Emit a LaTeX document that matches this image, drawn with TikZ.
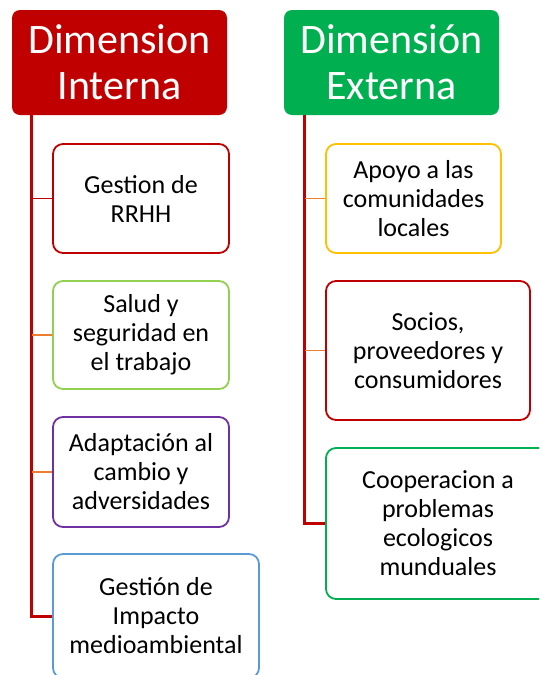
\documentclass[tikz,border=0pt]{standalone}
\usepackage{fontspec}
\setmainfont{Carlito}
\usepackage{tikz}
\usetikzlibrary{positioning}
\definecolor{dimred}{RGB}{192,0,0}
\definecolor{dimgreen}{RGB}{0,176,80}
\definecolor{lightgreen}{RGB}{146,208,80}
\definecolor{dimpurple}{RGB}{112,48,160}
\definecolor{dimblue}{RGB}{91,155,213}
\definecolor{dimyellow}{RGB}{255,192,0}
\definecolor{dimorange}{RGB}{237,125,49}

\begin{document}
\begin{tikzpicture}[
    x=1pt, y=-1pt,
    header/.style={rectangle, rounded corners=8pt, fill=#1, text=white, minimum width=215pt, minimum height=105pt, inner sep=0pt, align=center, font=\fontsize{42}{46}\selectfont},
    item/.style={rectangle, rounded corners=10pt, draw=#1, line width=1.8pt, fill=white, inner sep=0pt, align=center, font=\fontsize{26}{29}\selectfont},
    trunk/.style={draw=dimred, line width=3pt},
    branch/.style={draw=#1, line width=1.6pt}
]
    \useasboundingbox (0,0) rectangle (539,675);
    \clip (0,0) rectangle (539,675);

    % Headers
    \node[header=dimred] (interna) at (119.5,62.5) {Dimension\\Interna};
    \node[header=dimgreen] (externa) at (391.5,62.5) {Dimensión\\Externa};

    % Dimension interna
    \node[item=dimred, minimum width=176pt, minimum height=109pt] (rrhh) at (141,198.5) {Gestion de\\RRHH};
    \node[item=lightgreen, minimum width=176pt, minimum height=108pt] (salud) at (141,335) {Salud y\\seguridad en\\el trabajo};
    \node[item=dimpurple, minimum width=176pt, minimum height=110pt] (adapt) at (141,472) {Adaptación al\\cambio y\\adversidades};
    \node[item=dimblue, minimum width=206pt, minimum height=124pt] (impacto) at (156,616) {Gestión de\\Impacto\\medioambiental};

    % Dimension externa
    \node[item=dimyellow, minimum width=175pt, minimum height=109pt] (apoyo) at (413.5,198.5) {Apoyo a las\\comunidades\\locales};
    \node[item=dimred, minimum width=204pt, minimum height=139pt] (socios) at (428,350.5) {Socios,\\proveedores y\\consumidores};
    \node[item=dimgreen, minimum width=224pt, minimum height=151pt] (coop) at (438,523.5) {Cooperacion a\\problemas\\ecologicos\\munduales};

    % Trunks
    \coordinate (lt) at (31.5,115);
    \coordinate (rt) at (304.5,115);
    \draw[trunk] (lt) |- (impacto.west);
    \draw[trunk] (rt) |- (coop.west);

    % Branches
    \draw[branch=dimred] (lt |- rrhh.west) -- (rrhh.west);
    \draw[branch=dimorange] (lt |- salud.west) -- (salud.west);
    \draw[branch=dimorange] (lt |- adapt.west) -- (adapt.west);
    \draw[branch=dimorange] (rt |- apoyo.west) -- (apoyo.west);
    \draw[branch=dimorange] (rt |- socios.west) -- (socios.west);
\end{tikzpicture}
\end{document}
